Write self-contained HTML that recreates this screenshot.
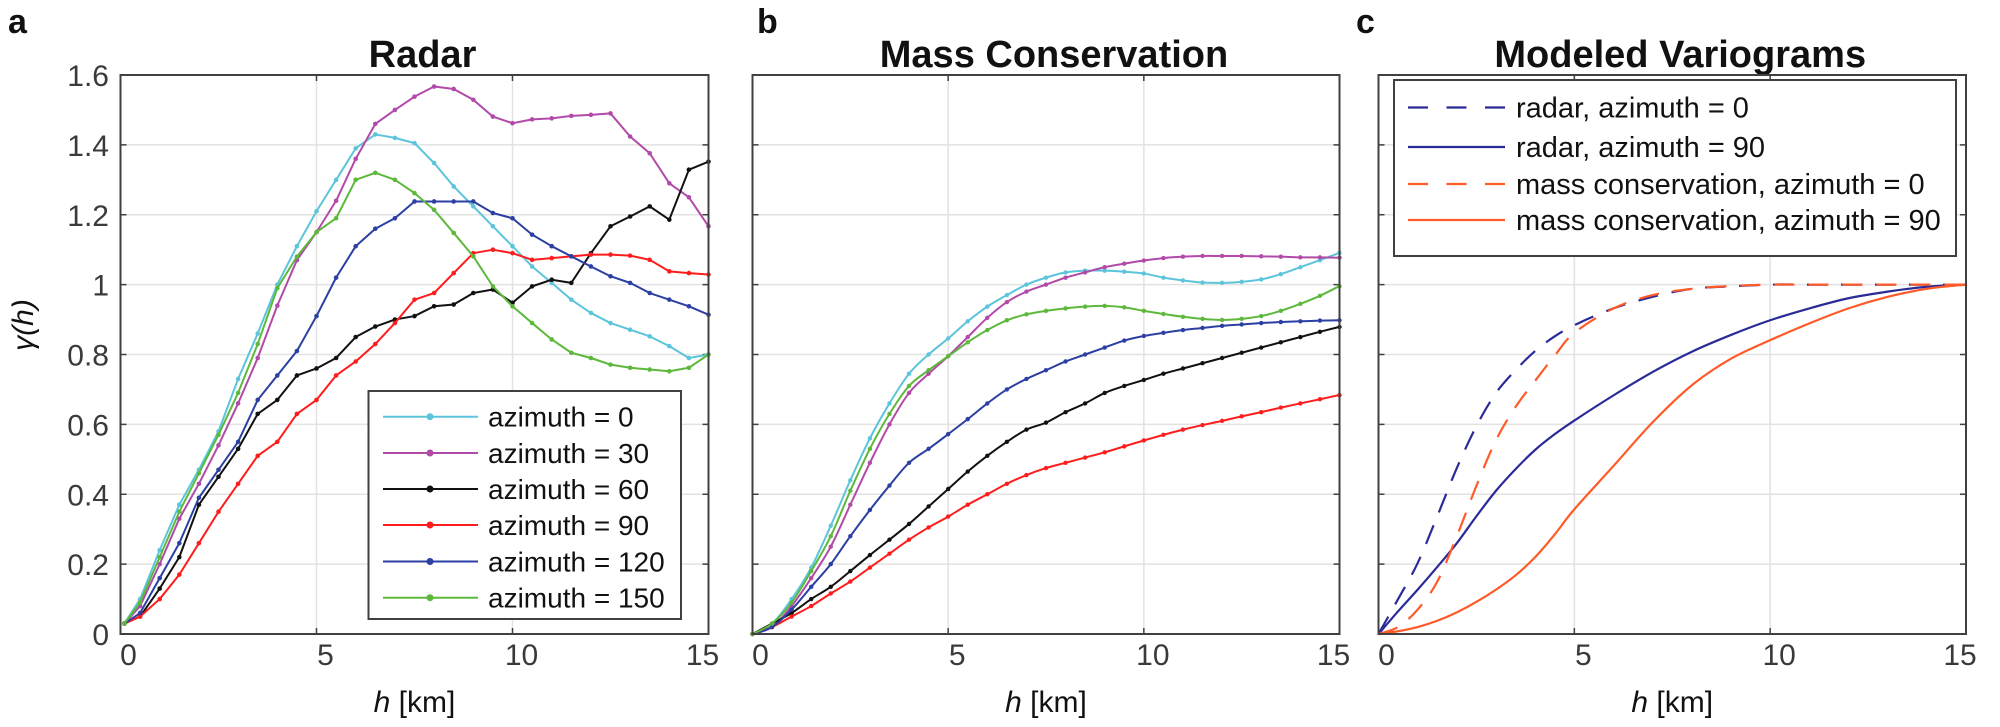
<!DOCTYPE html>
<html><head><meta charset="utf-8">
<style>
html,body{margin:0;padding:0;background:#fff;}
svg{display:block;font-family:"Liberation Sans",Arial,sans-serif;}
</style></head>
<body>
<svg id="fig" width="2000" height="727" viewBox="0 0 2000 727" xmlns="http://www.w3.org/2000/svg"></svg>
<script>
// ---------- data ----------
const aX = [0.1,0.5,1,1.5,2,2.5,3,3.5,4,4.5,5,5.5,6,6.5,7,7.5,8,8.5,9,9.5,10,10.5,11,11.5,12,12.5,13,13.5,14,14.5,15];
const aAz0   = [.03,.1,.24,.37,.47,.58,.73,.86,1.0,1.11,1.21,1.30,1.39,1.43,1.42,1.405,1.348,1.281,1.224,1.167,1.11,1.052,1.005,.957,.919,.89,.871,.852,.824,.79,.80];
const aAz30  = [.03,.08,.2,.33,.43,.54,.66,.79,.94,1.07,1.15,1.24,1.36,1.46,1.50,1.538,1.567,1.56,1.529,1.481,1.462,1.473,1.476,1.483,1.486,1.49,1.424,1.376,1.29,1.25,1.167];
const aAz60  = [.03,.05,.13,.22,.37,.45,.53,.63,.67,.74,.76,.79,.85,.88,.90,.91,.938,.943,.976,.986,.948,.995,1.014,1.005,1.09,1.167,1.195,1.224,1.186,1.329,1.352];
const aAz90  = [.03,.05,.1,.17,.26,.35,.43,.51,.55,.63,.67,.74,.78,.83,.89,.957,.976,1.033,1.09,1.1,1.09,1.071,1.076,1.081,1.086,1.086,1.083,1.071,1.038,1.033,1.029];
const aAz120 = [.03,.06,.16,.26,.39,.47,.55,.67,.74,.81,.91,1.02,1.11,1.16,1.19,1.238,1.238,1.238,1.238,1.205,1.19,1.143,1.11,1.081,1.052,1.024,1.005,.976,.957,.938,.914];
const aAz150 = [.03,.09,.22,.35,.46,.57,.69,.83,.99,1.08,1.15,1.19,1.30,1.32,1.30,1.262,1.214,1.148,1.081,.995,.938,.89,.843,.805,.79,.771,.762,.757,.752,.762,.80];

const bX = [0,0.5,1,1.5,2,2.5,3,3.5,4,4.5,5,5.5,6,6.5,7,7.5,8,8.5,9,9.5,10,10.5,11,11.5,12,12.5,13,13.5,14,14.5,15];
const bAz0   = [0,.03,.1,.19,.31,.44,.56,.66,.745,.80,.846,.895,.937,.97,1.0,1.02,1.035,1.04,1.04,1.037,1.032,1.02,1.012,1.006,1.005,1.008,1.015,1.03,1.05,1.07,1.091];
const bAz30  = [0,.02,.08,.16,.25,.37,.49,.60,.69,.745,.795,.85,.905,.95,.98,1.0,1.02,1.035,1.05,1.06,1.069,1.076,1.08,1.082,1.082,1.082,1.081,1.08,1.078,1.078,1.077];
const bAz60  = [0,.03,.06,.1,.135,.18,.226,.27,.315,.365,.415,.465,.51,.55,.585,.605,.635,.66,.69,.71,.727,.745,.76,.775,.79,.805,.82,.835,.85,.865,.879];
const bAz90  = [0,.02,.05,.08,.116,.15,.19,.23,.27,.305,.336,.37,.40,.43,.455,.475,.49,.505,.52,.537,.554,.57,.585,.598,.61,.623,.635,.648,.66,.672,.684];
const bAz120 = [0,.02,.07,.135,.2,.28,.355,.425,.49,.53,.572,.615,.66,.7,.73,.755,.78,.80,.82,.84,.853,.862,.87,.876,.882,.886,.89,.893,.895,.897,.898];
const bAz150 = [0,.03,.09,.18,.28,.41,.53,.63,.71,.755,.795,.835,.87,.898,.915,.925,.932,.937,.939,.935,.925,.916,.908,.902,.899,.902,.91,.925,.945,.968,.996];

const cX = [0,.5,1,1.5,2,2.5,3,3.5,4,4.5,5,6,7,8,9,10,11,12,13,14,15];
const cRadar0  = [0,.10,.203,.337,.475,.595,.69,.755,.81,.852,.884,.932,.965,.988,.995,1,1,1,1,1,1];
const cRadar90 = [0,.065,.127,.192,.26,.337,.41,.472,.527,.572,.611,.683,.75,.808,.856,.898,.932,.961,.98,.994,1];
const cMass0   = [0,.02,.07,.15,.28,.424,.555,.65,.725,.797,.862,.932,.97,.988,.996,1,1,1,1,1,1];
const cMass90  = [0,.008,.02,.038,.062,.092,.127,.168,.22,.285,.357,.481,.606,.712,.788,.841,.889,.932,.965,.988,1];

const xTicks = [0,5,10,15];
const xTickLabels = ["0","5","10","15"];
const yTicks = [0,0.2,0.4,0.6,0.8,1,1.2,1.4,1.6];
const yTickLabels = ["0","0.2","0.4","0.6","0.8","1","1.2","1.4","1.6"];
const legendA = ["azimuth = 0","azimuth = 30","azimuth = 60","azimuth = 90","azimuth = 120","azimuth = 150"];
const legendC = ["radar, azimuth = 0","radar, azimuth = 90","mass conservation, azimuth = 0","mass conservation, azimuth = 90"];

// ---------- layout ----------
const NS = "http://www.w3.org/2000/svg";
const svg = document.getElementById('fig');
const TOP = 75, BOT = 634;
const panels = [
  {key:'radar', x0:120.5, x1:708.5, title:'Radar', letter:'a', lx:8},
  {key:'mass', x0:752.5, x1:1339.5, title:'Mass Conservation', letter:'b', lx:757},
  {key:'model', x0:1378.5, x1:1966, title:'Modeled Variograms', letter:'c', lx:1356}
];
function el(tag, attrs, parent){
  const e = document.createElementNS(NS, tag);
  for (const k in attrs) e.setAttribute(k, attrs[k]);
  (parent||svg).appendChild(e);
  return e;
}
function sx(p, v){ return p.x0 + (v/15)*(p.x1-p.x0); }
function sy(v){ return BOT - (v/1.6)*(BOT-TOP); }
function smoothPath(p, xs, ys){
  const pts = xs.map((x,i)=>[sx(p,x), sy(ys[i])]);
  let d = 'M'+pts[0][0]+','+pts[0][1];
  for (let i=0;i<pts.length-1;i++){
    const p0=pts[Math.max(i-1,0)], p1=pts[i], p2=pts[i+1], p3=pts[Math.min(i+2,pts.length-1)];
    const c1x=p1[0]+(p2[0]-p0[0])/6, c1y=p1[1]+(p2[1]-p0[1])/6;
    const c2x=p2[0]-(p3[0]-p1[0])/6, c2y=p2[1]-(p3[1]-p1[1])/6;
    d += ' C'+c1x+','+c1y+' '+c2x+','+c2y+' '+p2[0]+','+p2[1];
  }
  return d;
}
function linePath(p, xs, ys){
  return xs.map((x,i)=>(i?'L':'M')+sx(p,x)+','+sy(ys[i])).join(' ');
}

panels.forEach((p, pi)=>{
  const g = el('g', {});
  
  
  yTicks.forEach(v=>{
    if (v===0 || v===1.6) return;
    const l = el('line',{x1:p.x0,x2:p.x1,y1:sy(v),y2:sy(v),stroke:'#e2e2e2','stroke-width':1.5},g);
    
    
  });
  xTicks.forEach(v=>{
    if (v===0 || v===15) return;
    const l = el('line',{x1:sx(p,v),x2:sx(p,v),y1:TOP,y2:BOT,stroke:'#e2e2e2','stroke-width':1.5},g);
    
    
  });
  yTicks.forEach(v=>{
    el('line',{x1:p.x0,x2:p.x0+6,y1:sy(v),y2:sy(v),stroke:'#404040','stroke-width':1.5},g);
    el('line',{x1:p.x1,x2:p.x1-6,y1:sy(v),y2:sy(v),stroke:'#404040','stroke-width':1.5},g);
  });
  xTicks.forEach((v,i)=>{
    el('line',{x1:sx(p,v),x2:sx(p,v),y1:BOT,y2:BOT-6,stroke:'#404040','stroke-width':1.5},g);
    el('line',{x1:sx(p,v),x2:sx(p,v),y1:TOP,y2:TOP+6,stroke:'#404040','stroke-width':1.5},g);
    const t = el('text',{x:sx(p,v)+(v===0?8:(v===15?-6:9)),y:665,'font-size':30,fill:'#3a3a3a','text-anchor':'middle'},g);
    t.textContent = xTickLabels[i];
    
    
  });
  if (pi===0){
    yTicks.forEach((v,i)=>{
      const t = el('text',{x:109,y:sy(v)+11,'font-size':30,fill:'#3a3a3a','text-anchor':'end'},g);
      t.textContent = yTickLabels[i];
      
      
    });
    const yl = el('text',{x:0,y:0,'font-size':30,fill:'#111','text-anchor':'middle',transform:'translate(33,325) rotate(-90)'},g);
    yl.innerHTML = '<tspan font-style="italic">γ(h)</tspan>';
    
    
  }
  const xl = el('text',{x:(p.x0+p.x1)/2,y:712,'font-size':30,fill:'#111','text-anchor':'middle'},g);
  xl.innerHTML = '<tspan font-style="italic">h</tspan> [km]';
  
  
  const tt = el('text',{x:(p.x0+p.x1)/2+8,y:67,'font-size':38,'font-weight':'bold',fill:'#111','text-anchor':'middle'},g);
  tt.textContent = p.title;
  
  
  const lt = el('text',{x:p.lx,y:33,'font-size':34,'font-weight':'bold',fill:'#111'},g);
  lt.textContent = p.letter;
  
  
  p.g = g;
});

const colsAB = ['#5cc5db','#b24aa9','#111111','#ff1c1c','#2c3fa3','#5db83c'];
const seriesA = [aAz0,aAz30,aAz60,aAz90,aAz120,aAz150];
const seriesB = [bAz0,bAz30,bAz60,bAz90,bAz120,bAz150];
seriesA.forEach((ys,si)=>{
  const path = el('path',{d:linePath(panels[0],aX,ys),fill:'none',stroke:colsAB[si],'stroke-width':2,'stroke-linejoin':'round'},panels[0].g);
  
  
  aX.forEach((x,i)=>{
    const c = el('circle',{cx:sx(panels[0],x),cy:sy(ys[i]),r:2.3,fill:colsAB[si]},panels[0].g);
    
    
  });
});
seriesB.forEach((ys,si)=>{
  const path = el('path',{d:smoothPath(panels[1],bX,ys),fill:'none',stroke:colsAB[si],'stroke-width':2},panels[1].g);
  
  
  bX.forEach((x,i)=>{
    const c = el('circle',{cx:sx(panels[1],x),cy:sy(ys[i]),r:2.2,fill:colsAB[si]},panels[1].g);
    
    
  });
});
const seriesC = [cRadar0,cRadar90,cMass0,cMass90];
const colsC = ['#2b2b98','#2b2b98','#ff5a28','#ff5a28'];
const dashC = ['20 14','','20 14',''];
seriesC.forEach((ys,si)=>{
  const attrs = {d:smoothPath(panels[2],cX,ys),fill:'none',stroke:colsC[si],'stroke-width':2.2};
  if (dashC[si]) attrs['stroke-dasharray']=dashC[si];
  const path = el('path',attrs,panels[2].g);
  
  
});

panels.forEach(p=>{
  const r = el('rect',{x:p.x0,y:TOP,width:p.x1-p.x0,height:BOT-TOP,fill:'none',stroke:'#404040','stroke-width':2},p.g);
  
  
});

const legA = el('g',{});


el('rect',{x:368.5,y:391,width:312.5,height:228,fill:'#fff',stroke:'#404040','stroke-width':2},legA);
const legAY = [416.7,453,489,525,561.5,597.7];
legendA.forEach((s,i)=>{
  const e = el('g',{},legA);
  
  
  el('line',{x1:383,x2:478,y1:legAY[i],y2:legAY[i],stroke:colsAB[i],'stroke-width':2},e);
  el('circle',{cx:430,cy:legAY[i],r:3.5,fill:colsAB[i]},e);
  const t = el('text',{x:488,y:legAY[i]+10,'font-size':28,fill:'#111'},e);
  t.textContent = s;
});
const legC = el('g',{});


el('rect',{x:1394,y:80,width:562,height:176,fill:'#fff',stroke:'#404040','stroke-width':2},legC);
const legCY = [107.5,147,184,220];
legendC.forEach((s,i)=>{
  const e = el('g',{},legC);
  
  
  const la = {x1:1408,x2:1505,y1:legCY[i],y2:legCY[i],stroke:colsC[i],'stroke-width':2.2};
  if (dashC[i]) la['stroke-dasharray']='20 18.5';
  el('line',la,e);
  const t = el('text',{x:1516,y:legCY[i]+10,'font-size':29,fill:'#111'},e);
  t.textContent = s;
});
</script>
</body></html>
